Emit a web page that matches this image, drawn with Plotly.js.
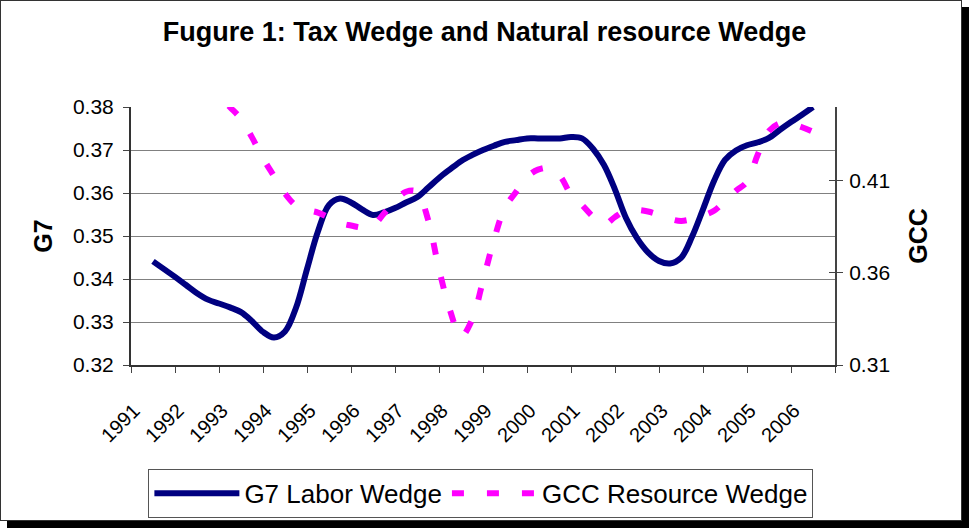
<!DOCTYPE html>
<html><head><meta charset="utf-8">
<script src="https://cdn.plot.ly/plotly-3.0.1.min.js"></script>
<style>
html,body{margin:0;padding:0;background:#fff;}
#frame{position:absolute;left:0;top:0;width:960px;height:519px;border:1px solid #333;background:#fff;box-shadow:7px 7px 0 #000;}
#chart{position:absolute;left:0;top:0;width:969px;height:529px;}
</style></head><body>
<div id="frame"></div>
<div id="chart"></div>
<script>
// quarterly observation points (year fraction)
var quarters = [1991.5,1991.75,1992,1992.25,1992.5,1992.75,1993,1993.25,1993.5,1993.75,
  1994,1994.25,1994.5,1994.75,1995,1995.25,1995.5,1995.75,1996,1996.25,
  1996.5,1996.75,1997,1997.25,1997.5,1997.75,1998,1998.25,1998.5,1998.75,
  1999,1999.25,1999.5,1999.75,2000,2000.25,2000.5,2000.75,2001,2001.25,
  2001.5,2001.75,2002,2002.25,2002.5,2002.75,2003,2003.25,2003.5,2003.75,
  2004,2004.25,2004.5,2004.75,2005,2005.25,2005.5,2005.75,2006,2006.25,2006.5];

var g7LaborWedge = [0.3441,0.3423,0.3405,0.3386,0.3367,0.3352,0.3343,0.3334,0.3323,0.3302,
  0.3277,0.3264,0.3278,0.3333,0.3423,0.3511,0.3572,0.3587,0.3578,0.3562,
  0.3549,0.3555,0.3565,0.3578,0.3590,0.3612,0.3635,0.3655,0.3674,0.3688,
  0.3700,0.3710,0.3719,0.3723,0.3727,0.3727,0.3727,0.3727,0.3730,0.3727,
  0.3703,0.3665,0.3608,0.3542,0.3495,0.3462,0.3442,0.3436,0.3449,0.3498,
  0.3562,0.3628,0.3677,0.3699,0.3711,0.3718,0.3728,0.3747,0.3765,0.3782,0.3800];

var gccResourceWedge = [0.490,0.485,0.479,0.473,0.467,0.462,0.456,0.4499,0.4435,0.4335,
  0.4222,0.4125,0.4030,0.3965,0.3942,0.3927,0.3900,0.3871,0.3857,0.3846,
  0.3858,0.3922,0.3990,0.4040,0.4040,0.3890,0.3620,0.3397,0.3255,0.3345,
  0.3557,0.3780,0.3955,0.4039,0.4120,0.4160,0.4168,0.4125,0.4025,0.3968,
  0.3905,0.3862,0.3903,0.3938,0.3942,0.3933,0.3915,0.3893,0.3882,0.3892,
  0.3911,0.3937,0.3990,0.4045,0.4095,0.4245,0.4370,0.4412,0.4408,0.4390,0.4365];

var yearTicks = [1991,1992,1993,1994,1995,1996,1997,1998,1999,2000,2001,2002,2003,2004,2005,2006,2007];
var yearLabels = ['1991','1992','1993','1994','1995','1996','1997','1998','1999','2000','2001','2002','2003','2004','2005','2006',''];
var leftTicks = [0.32,0.33,0.34,0.35,0.36,0.37,0.38];
var rightTicks = [0.31,0.36,0.41];

var traces = [
  {x: quarters, y: g7LaborWedge, name: 'G7 Labor Wedge', type: 'scatter', mode: 'lines',
   line: {color: '#000080', width: 6, shape: 'spline', smoothing: 1}, yaxis: 'y', hoverinfo: 'skip'},
  {x: quarters, y: gccResourceWedge, name: 'GCC Resource Wedge', type: 'scatter', mode: 'lines',
   line: {color: '#FF00FF', width: 6, dash: '12px,23px', shape: 'spline', smoothing: 1}, yaxis: 'y2', hoverinfo: 'skip'},
  // empty helper trace so the inner half of the crossing right-hand ticks is drawn
  {x: [null], y: [null], yaxis: 'y3', type: 'scatter', mode: 'lines', showlegend: false, hoverinfo: 'skip'}
];

var FONT = 'Arial, "Liberation Sans", sans-serif';
var layout = {
  width: 969, height: 529,
  margin: {l: 131, r: 134, t: 107, b: 163, pad: 0},
  paper_bgcolor: 'rgba(0,0,0,0)', plot_bgcolor: '#ffffff',
  font: {family: FONT, color: '#000'},
  title: {text: 'Fugure 1: Tax Wedge and Natural resource Wedge',
    font: {family: FONT, size: 27, weight: 700, color: '#000'},
    x: 0.5, xref: 'container', xanchor: 'center', y: 1 - 32/529, yref: 'container', yanchor: 'middle'},
  xaxis: {range: [1991, 2007], tickmode: 'array', tickvals: yearTicks, ticktext: yearLabels,
    tickangle: -45, ticks: 'outside', ticklen: 6, tickwidth: 1, tickcolor: '#444',
    ticklabelstandoff: 18, ticklabelshift: 3,
    showline: true, linecolor: '#333', linewidth: 2, showgrid: false, zeroline: false,
    tickfont: {size: 20}, fixedrange: true},
  yaxis: {range: [0.32, 0.38], tickmode: 'array', tickvals: leftTicks, tickformat: '.2f',
    ticks: 'outside', ticklen: 6, tickwidth: 1, tickcolor: '#444', ticklabelstandoff: 5,
    showgrid: true, gridcolor: '#808080', gridwidth: 1,
    showline: true, linecolor: '#333', linewidth: 2, zeroline: false,
    tickfont: {size: 21},
    title: {text: 'G7', font: {size: 25, weight: 700}, standoff: 13}, fixedrange: true},
  yaxis2: {overlaying: 'y', side: 'right', range: [0.31, 0.45], tickmode: 'array', tickvals: rightTicks,
    tickformat: '.2f', ticks: 'outside', ticklen: 6, tickwidth: 1, tickcolor: '#444', ticklabelstandoff: 2,
    showgrid: false, showline: true, linecolor: '#444', linewidth: 2, zeroline: false,
    tickfont: {size: 21},
    title: {text: 'GCC', font: {size: 25, weight: 700}, standoff: 20}, fixedrange: true},
  yaxis3: {overlaying: 'y', side: 'right', range: [0.31, 0.45], tickmode: 'array', tickvals: rightTicks,
    ticks: 'inside', ticklen: 6, tickwidth: 1, tickcolor: '#444', showticklabels: false,
    showgrid: false, showline: false, zeroline: false, fixedrange: true},
  legend: {orientation: 'h', x: 0.497, xanchor: 'center', y: -0.397, yanchor: 'top',
    itemwidth: 85,
    bordercolor: '#555', borderwidth: 1, bgcolor: '#ffffff', font: {size: 26}},
  showlegend: true
};

Plotly.newPlot('chart', traces, layout, {displayModeBar: false, staticPlot: true});
</script></body></html>
